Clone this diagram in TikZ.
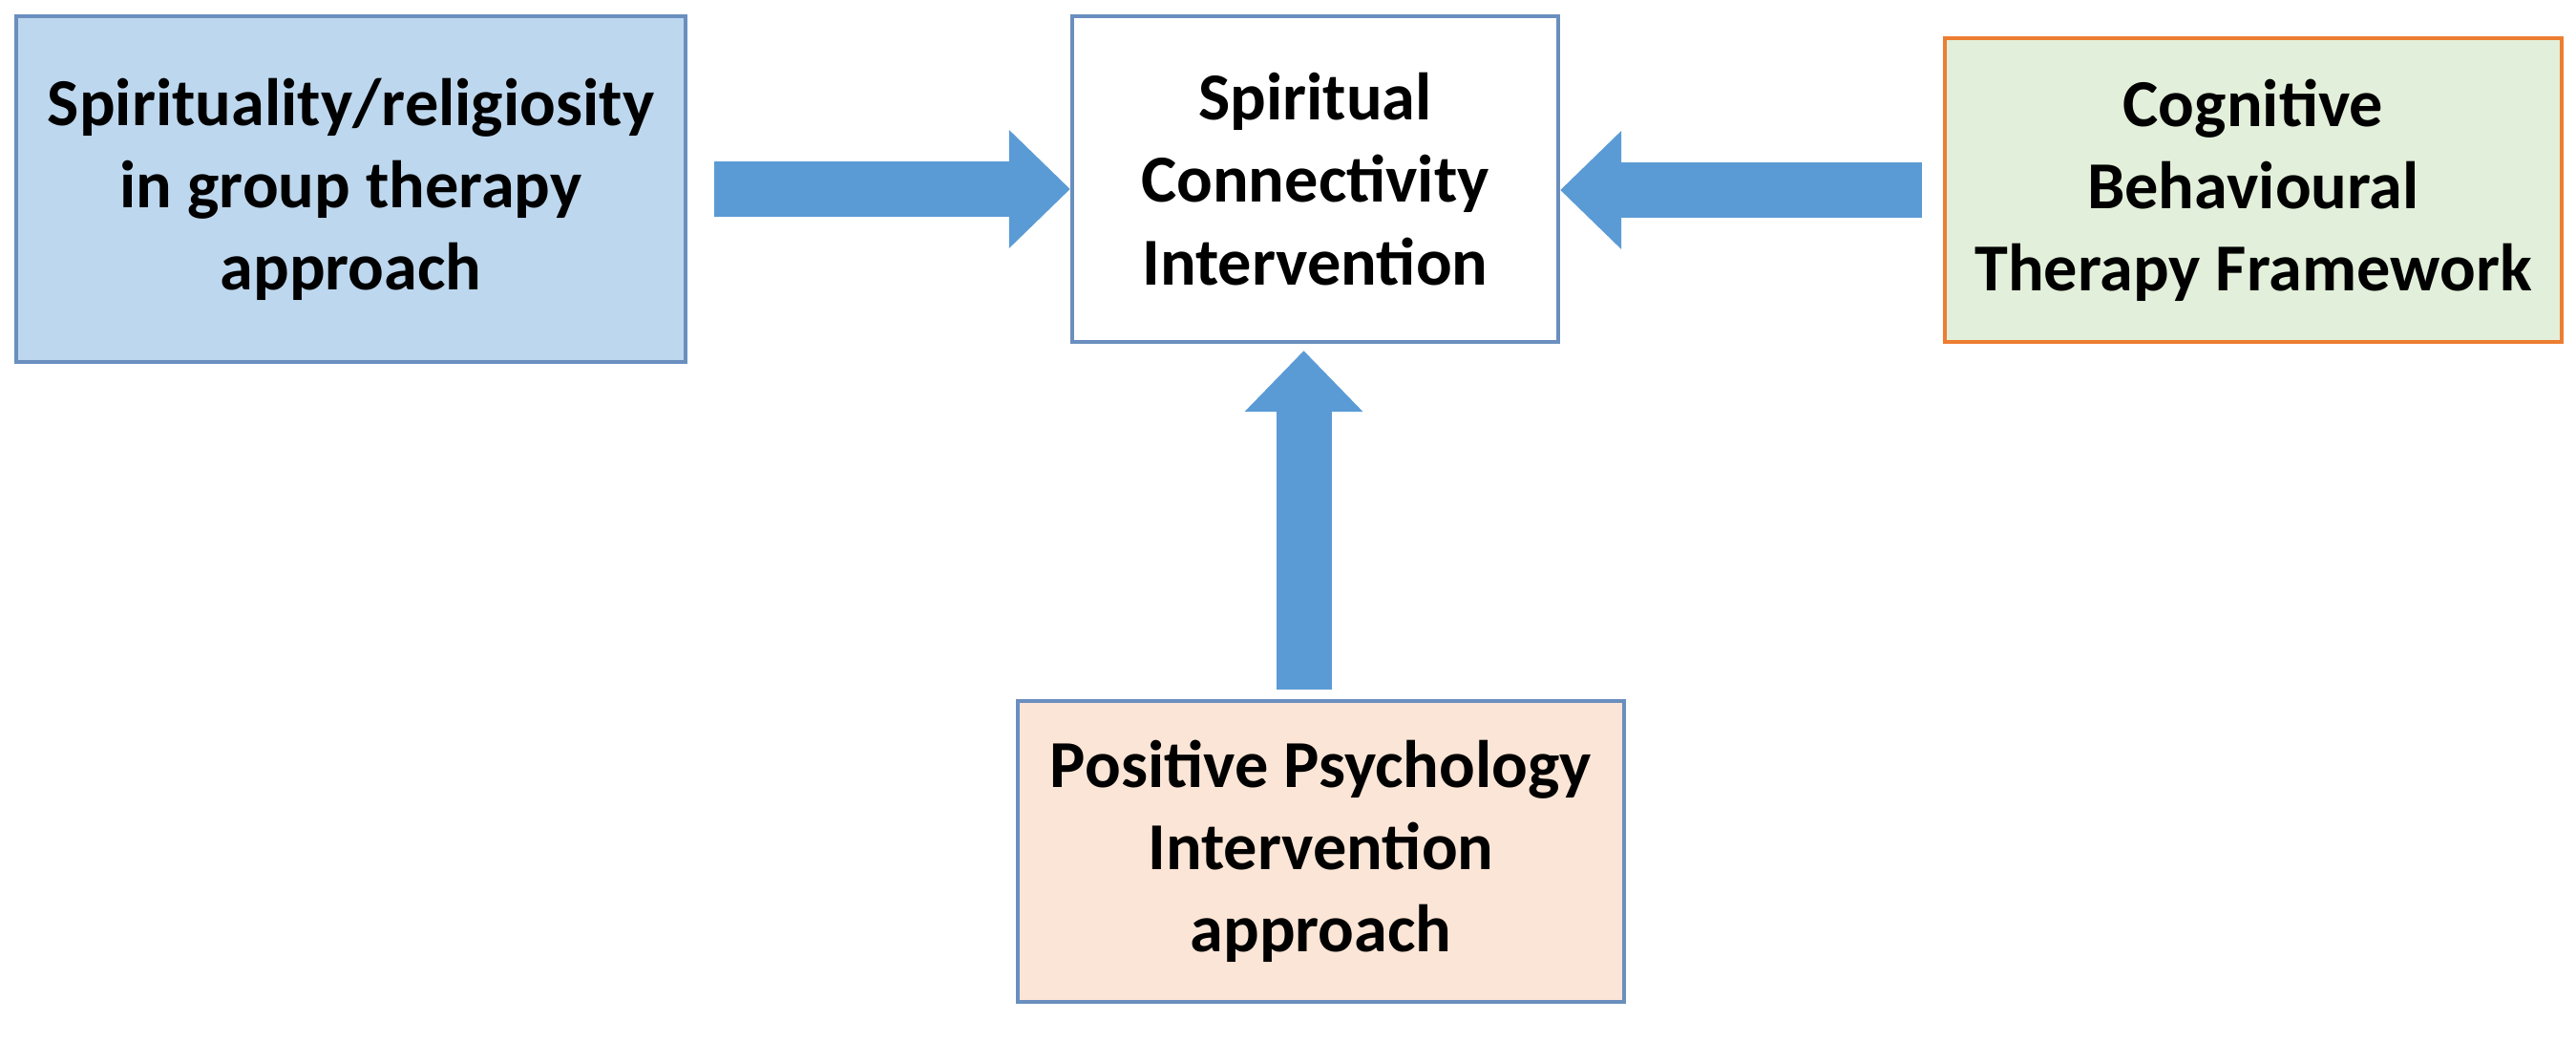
\documentclass[tikz,border=0pt]{standalone}
\usepackage{fontspec}
\setmainfont{Carlito}
\usetikzlibrary{arrows.meta,calc,positioning}
\definecolor{arrowblue}{HTML}{5B9BD5}
\definecolor{boxline}{HTML}{6A8FBF}
\definecolor{blueish}{HTML}{BDD7EE}
\definecolor{greenish}{HTML}{E2EFDA}
\definecolor{peach}{HTML}{FBE5D6}
\definecolor{orangeline}{HTML}{ED7D31}
\begin{document}
\begin{tikzpicture}
    \tikzset{Box/.style = {draw=boxline, line width=1.2pt, align=center,
        font=\fontsize{20}{24.5}\selectfont\bfseries, inner sep=0pt},
      BigArrow/.style = {draw=arrowblue, line width=0.58cm,
        -{Triangle[width=1.2cm,length=0.64cm]}}}
    \useasboundingbox (0,0) rectangle (26.98,10.91);
    \node[Box, fill=blueish, minimum width=7.01cm, minimum height=3.62cm] (spirit) at (3.675,8.93) {Spirituality/religiosity\\in group therapy\\approach};
    \node[Box, fill=white, minimum width=5.09cm, minimum height=3.41cm] (sci) at (13.775,9.035) {Spiritual\\Connectivity\\Intervention};
    \node[Box, draw=orangeline, fill=greenish, minimum width=6.46cm, minimum height=3.18cm] (cbt) at (23.6,8.92) {Cognitive\\Behavioural\\Therapy Framework};
    \node[Box, fill=peach, minimum width=6.35cm, minimum height=3.15cm] (ppi) at (13.835,1.995) {Positive Psychology\\Intervention\\approach};
    \draw[BigArrow, shorten <=0.28cm] (spirit.east) -- (spirit.east -| sci.west);
    \draw[BigArrow, shorten <=0.22cm] (cbt.west) -- (cbt.west -| sci.east);
    \draw[BigArrow, shorten <=0.1cm, shorten >=0.07cm] ([xshift=-1.8mm]ppi.north) -- ([xshift=-1.8mm]ppi.north |- sci.south);
\end{tikzpicture}
\end{document}
